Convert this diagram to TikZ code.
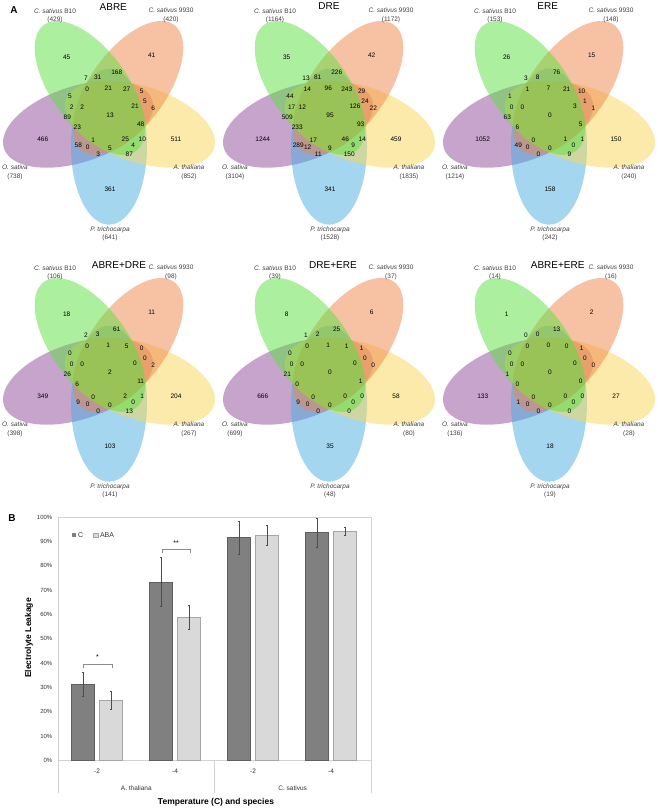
\documentclass[tikz,border=0pt]{standalone}
\usepackage{fontspec}
\setmainfont{Liberation Sans}
\usetikzlibrary{positioning,arrows.meta}
\definecolor{vgreen}{RGB}{91,225,65}
\definecolor{vorange}{RGB}{241,135,75}
\definecolor{vyellow}{RGB}{249,215,85}
\definecolor{vblue}{RGB}{75,175,225}
\definecolor{vpurple}{RGB}{145,75,155}
\definecolor{barC}{RGB}{128,128,128}
\definecolor{barCline}{RGB}{95,95,95}
\definecolor{barABA}{RGB}{217,217,217}
\definecolor{barABAline}{RGB}{166,166,166}
\definecolor{axisgray}{RGB}{210,210,210}
\tikzset{
  % Venn petal: translucent ellipse, no outline
  petal/.style={fill=#1, fill opacity=0.5},
  % Region count inside the Venn diagram
  regnum/.style={font=\fontsize{6.5}{7}\selectfont, inner sep=0pt},
  % Species name with its total below
  spname/.style={font=\fontsize{6.5}{8.3}\selectfont, align=center, inner sep=0pt, text=black!75},
  venntitle/.style={font=\fontsize{10}{12}\selectfont, inner sep=0pt},
  panel/.style={font=\bfseries\fontsize{10}{12}\selectfont, inner sep=0pt},
  % Bar chart
  frame/.style={draw=axisgray, line width=0.6pt},
  ticklab/.style={font=\fontsize{6}{7}\selectfont, anchor=east, inner sep=0pt, text=black!80},
  catlab/.style={font=\fontsize{6.5}{7}\selectfont, inner sep=0pt, text=black!80},
  axtitle/.style={font=\bfseries\fontsize{8.5}{10}\selectfont, inner sep=0pt},
  cbar/.style={fill=barC, draw=barCline, line width=0.5pt},
  ababar/.style={fill=barABA, draw=barABAline, line width=0.5pt},
  errbar/.style={draw=black!70, line width=0.4pt, {Bar[width=2.5pt]}-{Bar[width=2.5pt]}},
  sigbr/.style={draw=black!45, line width=0.5pt},
  sigmark/.style={font=\fontsize{7}{8}\selectfont, inner sep=0pt},
  legsq/.style={minimum size=4.5pt, inner sep=0pt},
  leglab/.style={font=\fontsize{7}{8}\selectfont, inner sep=0pt, text=black!80}
}

% region positions, same order as the count lists below
\def\regx{{-43.3,41.7,66,0,-67.3,6.7,-24,-12.3,-22.7,-1.7,16.7,31.7,-40,35,43.3,-38.3,-27.7,25,-42.7,0,30.7,-32.7,15.3,32.3,-16.7,-31.7,-22.3,0,23.3,-11.7,19.3}}
\def\regy{{-58.4,-60,23.3,73.3,23.3,-43,-37,-38,-26.4,-27.7,-26.4,-24,-19.7,-14,-7,-8.4,-8.4,-9.7,1.6,0,8.3,12,23.3,23.3,24.3,30,32,33,30,38.6,38.6}}

\newcommand{\vennpetals}{%
  \foreach \ang/\col in {288/vpurple, 0/vblue, 72/vyellow, 144/vorange, 216/vgreen}
    \fill[petal=\col, rotate around={\ang:(-1,-1.5)}] (-1,31) ellipse (38 and 78);
}
\newcommand{\vennnums}[1]{%
  \foreach \v [count=\i from 0] in {#1} {
    \pgfmathsetmacro\px{\regx[\i]}
    \pgfmathsetmacro\py{\regy[\i]}
    \node[regnum] (r\i) at (\px,\py) {\v};
  }
}
\newcommand{\vennlabels}[5]{%
  \node[spname] (b10) at (-55,-99.8) {\textit{C. sativus} B10\\(#1)};
  \node[spname] (s9930) at (61,-100.3) {\textit{C. sativus} 9930\\(#2)};
  \node[spname] (osat) at (-95,56.5) {\textit{O. sativa}\\(#3)};
  \node[spname] (athal) at (79,56.5) {\textit{A. thaliana}\\(#4)};
  \node[spname] (ptri) at (0,118) {\textit{P. trichocarpa}\\(#5)};
}

\begin{document}
\begin{tikzpicture}[x=1pt, y=-1pt]
\fill[white] (0,0) rectangle (661,810);
\useasboundingbox (0,0) rectangle (661,810);

% ============== PANEL A: five-way Venn diagrams ==============
\node[panel] (pa) at (14,10) {A};

\node[venntitle] (t-abre) at (113.3,7.3) {ABRE};
\begin{scope}[shift={(110,115.7)}, name prefix=abre-]
  \vennpetals
  \vennnums{45,41,511,361,466,168,7,31,0,21,27,5,5,5,6,2,2,21,89,13,48,23,25,10,1,58,0,5,4,3,87}
  \vennlabels{429}{420}{738}{852}{641}
\end{scope}

\node[venntitle] (t-dre) at (329,6.5) {DRE};
\begin{scope}[shift={(330,115.7)}, name prefix=dre-]
  \vennpetals
  \vennnums{35,42,459,341,1244,226,13,81,14,96,243,29,44,24,22,17,12,126,509,95,93,233,46,14,17,289,12,9,9,11,150}
  \vennlabels{1164}{1172}{3104}{1835}{1528}
\end{scope}

\node[venntitle] (t-ere) at (547.7,6.5) {ERE};
\begin{scope}[shift={(550,115.7)}, name prefix=ere-]
  \vennpetals
  \vennnums{26,15,150,158,1052,76,3,8,1,7,21,10,1,1,1,0,0,3,63,0,5,6,1,1,0,49,0,0,0,0,9}
  \vennlabels{153}{148}{1214}{240}{242}
\end{scope}

% bottom row: pairs of elements
\node[venntitle] (t-abredre) at (119,265) {ABRE+DRE};
\begin{scope}[shift={(110,372.7)}, name prefix=abredre-]
  \vennpetals
  \vennnums{18,11,204,103,349,61,2,3,0,1,5,0,0,0,2,0,0,0,26,2,11,6,2,1,0,9,0,0,0,0,13}
  \vennlabels{106}{98}{398}{267}{141}
\end{scope}

\node[venntitle] (t-dreere) at (333,265) {DRE+ERE};
\begin{scope}[shift={(330,372.7)}, name prefix=dreere-]
  \vennpetals
  \vennnums{8,6,58,35,666,25,1,2,0,1,1,1,0,0,0,0,0,0,21,0,1,0,0,0,0,9,0,0,0,0,0}
  \vennlabels{39}{37}{699}{80}{48}
\end{scope}

\node[venntitle] (t-abreere) at (557.7,265) {ABRE+ERE};
\begin{scope}[shift={(550,372.7)}, name prefix=abreere-]
  \vennpetals
  \vennnums{1,2,27,18,133,13,0,0,0,0,0,1,0,0,0,0,0,0,1,0,0,0,0,0,0,1,0,0,0,0,0}
  \vennlabels{14}{16}{136}{28}{19}
\end{scope}

% ============== PANEL B: electrolyte leakage ==============
\node[panel] (pb) at (12,518) {B};
\begin{scope}[shift={(58,760.5)}, y=2.435pt]
  % frame, axis and category dividers
  \draw[frame] (0,-13.3) -- (0,100) -- (313,100) -- (313,-13.3);
  \draw[frame] (0,0) -- (313,0);
  \draw[frame] (156.5,0) -- (156.5,-13.3);
  \foreach \t in {0,10,...,100}
    \node[ticklab] (tick\t) at (-5.5,\t) {\t\%};

  % bars: group / C value / C error / ABA value / ABA error
  \foreach \k/\cv/\ce/\av/\ae in {0/31.3/4.9/24.8/3.8, 1/73.4/10.2/58.8/4.9,
                                  2/91.5/7.0/92.6/4.1, 3/93.7/6.0/94.2/1.8} {
    \pgfmathsetmacro\xc{39+78*\k}
    \draw[cbar] (\xc-25.5,0) rectangle (\xc-2.3,\cv);
    \draw[ababar] (\xc+2.3,0) rectangle (\xc+25.5,\av);
    \draw[errbar] (\xc-13.9,\cv-\ce) -- (\xc-13.9,\cv+\ce);
    \draw[errbar] (\xc+13.9,\av-\ae) -- (\xc+13.9,\av+\ae);
  }

  % significance brackets
  \draw[sigbr] (25.1,37.9) -- (25.1,39.5) -- (53.9,39.5) -- (53.9,37.9);
  \node[sigmark] (sig1) at (39.5,42.4) {*};
  \draw[sigbr] (104.1,85.2) -- (104.1,86.7) -- (131.9,86.7) -- (131.9,85.2);
  \node[sigmark] (sig2) at (118,89.4) {**};

  % category labels
  \node[catlab] (c1) at (39,-4.4) {-2};
  \node[catlab] (c2) at (117,-4.4) {-4};
  \node[catlab] (c3) at (195,-4.4) {-2};
  \node[catlab] (c4) at (273,-4.4) {-4};
  \node[catlab] (sp1) at (78.3,-11.4) {A. thaliana};
  \node[catlab] (sp2) at (234.7,-11.4) {C. sativus};

  \node[axtitle] (xlab) at (158,-17.3) {Temperature (C) and species};
  \node[axtitle, rotate=90] (ylab) at (-29,50.3) {Electrolyte Leakage};

  % legend
  \node[legsq, fill=barC] (legc) at (16,92.6) {};
  \node[leglab, right=1.5pt of legc] (legctxt) {C};
  \node[legsq, fill=barABA, draw=barABAline, line width=0.4pt, right=10pt of legctxt] (legaba) {};
  \node[leglab, right=1.5pt of legaba] (legabatxt) {ABA};
\end{scope}

\end{tikzpicture}
\end{document}
